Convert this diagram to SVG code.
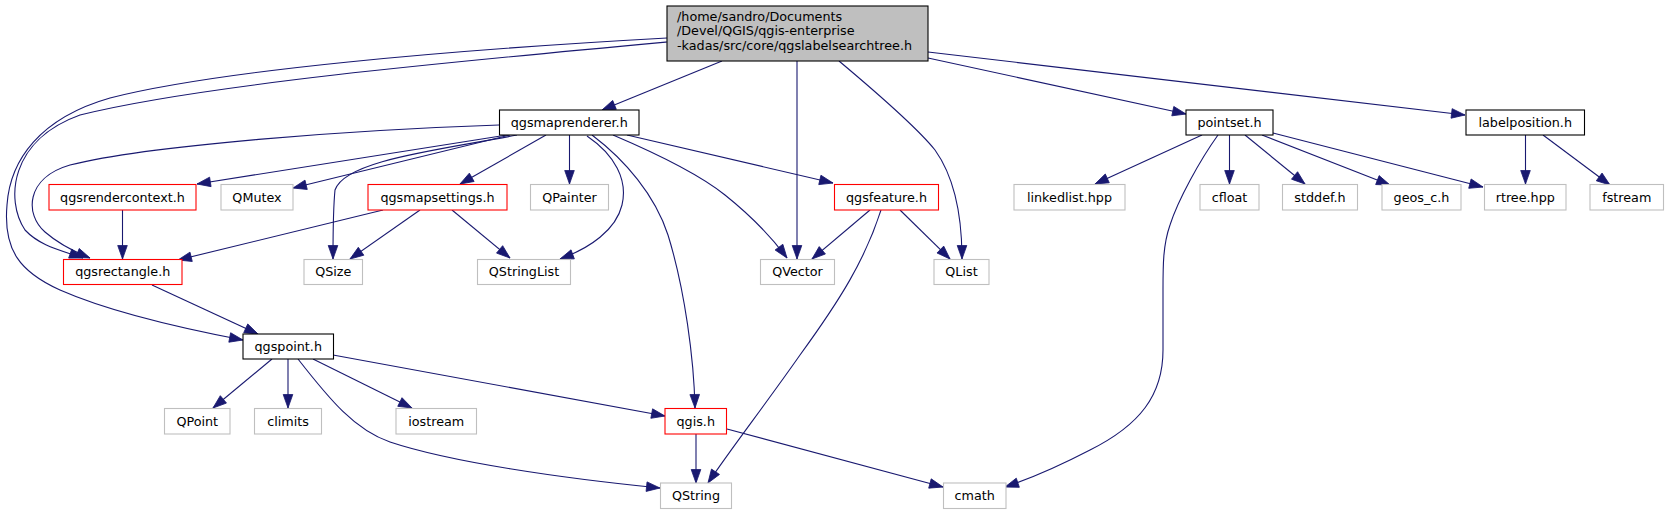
<svg xmlns="http://www.w3.org/2000/svg" width="1669" height="515" viewBox="0 0 1669 515">
<style>
text{font-family:"DejaVu Sans","Liberation Sans",sans-serif;font-size:12.75px;fill:#000}
.n text{text-anchor:middle}
rect{fill:#fff;stroke-width:1.1}
.k rect{stroke:#000}
.r rect{stroke:#ff0000}
.g rect{stroke:#bfbfbf}
.e path{fill:none;stroke:#191970;stroke-width:1.1;marker-end:url(#a)}
</style>
<defs>
<marker id="a" markerWidth="15" markerHeight="11" refX="13.5" refY="5" orient="auto" markerUnits="userSpaceOnUse" overflow="visible">
<path d="M0,0.2 L13.5,5 L0,9.8 z" fill="#191970" stroke="#191970" stroke-width="0.8"/>
</marker>
</defs>
<rect width="1669" height="515" fill="#fff" stroke="none"/>
<g id="edges" class="e">
<path d="M722,61 L602,110"/>
<path d="M797,61 L797,259"/>
<path d="M839,61 C870,87 915,125 935,150 C955,178 962,215 962,259"/>
<path d="M928,58 L1186,114"/>
<path d="M928,52 L1465,115"/>
<path d="M667,42 C450,62 200,85 80,115 C10,140 5,200 25,230 C40,246 60,250 83,258"/>
<path d="M667,38 C450,50 220,70 110,98 C40,118 10,160 7,205 C3,250 20,272 60,290 C110,312 180,328 243,340"/>
<path d="M507,135 L197,184"/>
<path d="M510,135 L293,188"/>
<path d="M517,135 C440,150 345,160 335,190 C333,210 333,235 333,259"/>
<path d="M499,125 C350,130 150,145 70,165 C25,178 25,215 45,232 C60,245 75,252 90,258"/>
<path d="M546,135 L460,184"/>
<path d="M569.5,135 L569.5,184"/>
<path d="M587,136 C615,155 628,180 622,205 C616,230 590,248 560,259"/>
<path d="M592,135 C625,160 655,195 668,235 C685,290 694,360 695,408"/>
<path d="M613,135 C660,155 700,175 725,195 C750,215 770,235 787,258"/>
<path d="M627,135 L833,183"/>
<path d="M383,210 L178,260"/>
<path d="M420,210 L350,259"/>
<path d="M452,210 L510,258"/>
<path d="M122.5,210 L122.5,259"/>
<path d="M870,210 L812,259"/>
<path d="M900,210 L950,259"/>
<path d="M881,210 C865,260 840,300 800,355 C765,405 730,450 708,483"/>
<path d="M152,285 L258,334"/>
<path d="M272,359 L213,408"/>
<path d="M288,359 L288,408"/>
<path d="M313,359 L412,408"/>
<path d="M298,359 C330,400 355,430 390,442 C450,462 560,478 660,488"/>
<path d="M333,355 L665,416"/>
<path d="M696,434 L696,483"/>
<path d="M727,429 L943,487"/>
<path d="M1202,135 L1095,184"/>
<path d="M1218,135 C1200,160 1178,200 1170,225 C1163,245 1163,265 1163,290 L1163,350 C1163,395 1140,425 1090,450 C1065,463 1035,477 1005,487"/>
<path d="M1229.5,135 L1229.5,184"/>
<path d="M1245,135 L1305,184"/>
<path d="M1262,135 L1390,185"/>
<path d="M1273,133 L1483,187"/>
<path d="M1525.5,135 L1525.5,184"/>
<path d="M1543,135 L1610,185"/>
</g>
<g id="root" class="k">
<rect x="667" y="6" width="261" height="55" style="fill:#bfbfbf"/>
<text x="677" y="20.6">/home/sandro/Documents</text>
<text x="677" y="35.3">/Devel/QGIS/qgis-enterprise</text>
<text x="677" y="50">-kadas/src/core/qgslabelsearchtree.h</text>
</g>
<g id="qgsmaprenderer" class="n k"><rect x="499.5" y="110" width="139.5" height="25"/><text x="569.25" y="126.9">qgsmaprenderer.h</text></g>
<g id="pointset" class="n k"><rect x="1186" y="110" width="87" height="25"/><text x="1229.5" y="126.9">pointset.h</text></g>
<g id="labelposition" class="n k"><rect x="1466" y="110" width="118.5" height="25"/><text x="1525.25" y="126.9">labelposition.h</text></g>
<g id="qgsrendercontext" class="n r"><rect x="49" y="184.5" width="147" height="25.5"/><text x="122.5" y="201.6">qgsrendercontext.h</text></g>
<g id="QMutex" class="n g"><rect x="221" y="184.5" width="72" height="25.5"/><text x="257" y="201.6">QMutex</text></g>
<g id="qgsmapsettings" class="n r"><rect x="368" y="184.5" width="139" height="25.5"/><text x="437.5" y="201.6">qgsmapsettings.h</text></g>
<g id="QPainter" class="n g"><rect x="530.5" y="184.5" width="78" height="25.5"/><text x="569.5" y="201.6">QPainter</text></g>
<g id="qgsfeature" class="n r"><rect x="834.5" y="184.5" width="104" height="25.5"/><text x="886.5" y="201.6">qgsfeature.h</text></g>
<g id="linkedlist" class="n g"><rect x="1014" y="184.5" width="111" height="25.5"/><text x="1069.5" y="201.6">linkedlist.hpp</text></g>
<g id="cfloat" class="n g"><rect x="1200" y="184.5" width="59" height="25.5"/><text x="1229.5" y="201.6">cfloat</text></g>
<g id="stddef" class="n g"><rect x="1282.5" y="184.5" width="75" height="25.5"/><text x="1320" y="201.6">stddef.h</text></g>
<g id="geos_c" class="n g"><rect x="1382" y="184.5" width="79" height="25.5"/><text x="1421.5" y="201.6">geos_c.h</text></g>
<g id="rtree" class="n g"><rect x="1484.5" y="184.5" width="81.5" height="25.5"/><text x="1525.25" y="201.6">rtree.hpp</text></g>
<g id="fstream" class="n g"><rect x="1590" y="184.5" width="73.5" height="25.5"/><text x="1626.75" y="201.6">fstream</text></g>
<g id="qgsrectangle" class="n r"><rect x="63.5" y="259.5" width="118.5" height="25"/><text x="122.75" y="276.4">qgsrectangle.h</text></g>
<g id="QSize" class="n g"><rect x="304" y="259.5" width="58.5" height="25"/><text x="333.25" y="276.4">QSize</text></g>
<g id="QStringList" class="n g"><rect x="477.5" y="259.5" width="93" height="25"/><text x="524" y="276.4">QStringList</text></g>
<g id="QVector" class="n g"><rect x="760.5" y="259.5" width="74" height="25"/><text x="797.5" y="276.4">QVector</text></g>
<g id="QList" class="n g"><rect x="934" y="259.5" width="55" height="25"/><text x="961.5" y="276.4">QList</text></g>
<g id="qgspoint" class="n k"><rect x="243" y="334" width="90.5" height="25"/><text x="288.25" y="350.9">qgspoint.h</text></g>
<g id="QPoint" class="n g"><rect x="164.5" y="408.5" width="65.5" height="25.5"/><text x="197.25" y="425.6">QPoint</text></g>
<g id="climits" class="n g"><rect x="254.5" y="408.5" width="67" height="25.5"/><text x="288" y="425.6">climits</text></g>
<g id="iostream" class="n g"><rect x="396" y="408.5" width="80.5" height="25.5"/><text x="436.25" y="425.6">iostream</text></g>
<g id="qgis" class="n r"><rect x="665" y="408.5" width="61.5" height="25.5"/><text x="695.75" y="425.6">qgis.h</text></g>
<g id="QString" class="n g"><rect x="660.5" y="483" width="71" height="25.5"/><text x="696" y="500.1">QString</text></g>
<g id="cmath" class="n g"><rect x="943.5" y="483" width="62.5" height="25.5"/><text x="974.75" y="500.1">cmath</text></g>
</svg>
